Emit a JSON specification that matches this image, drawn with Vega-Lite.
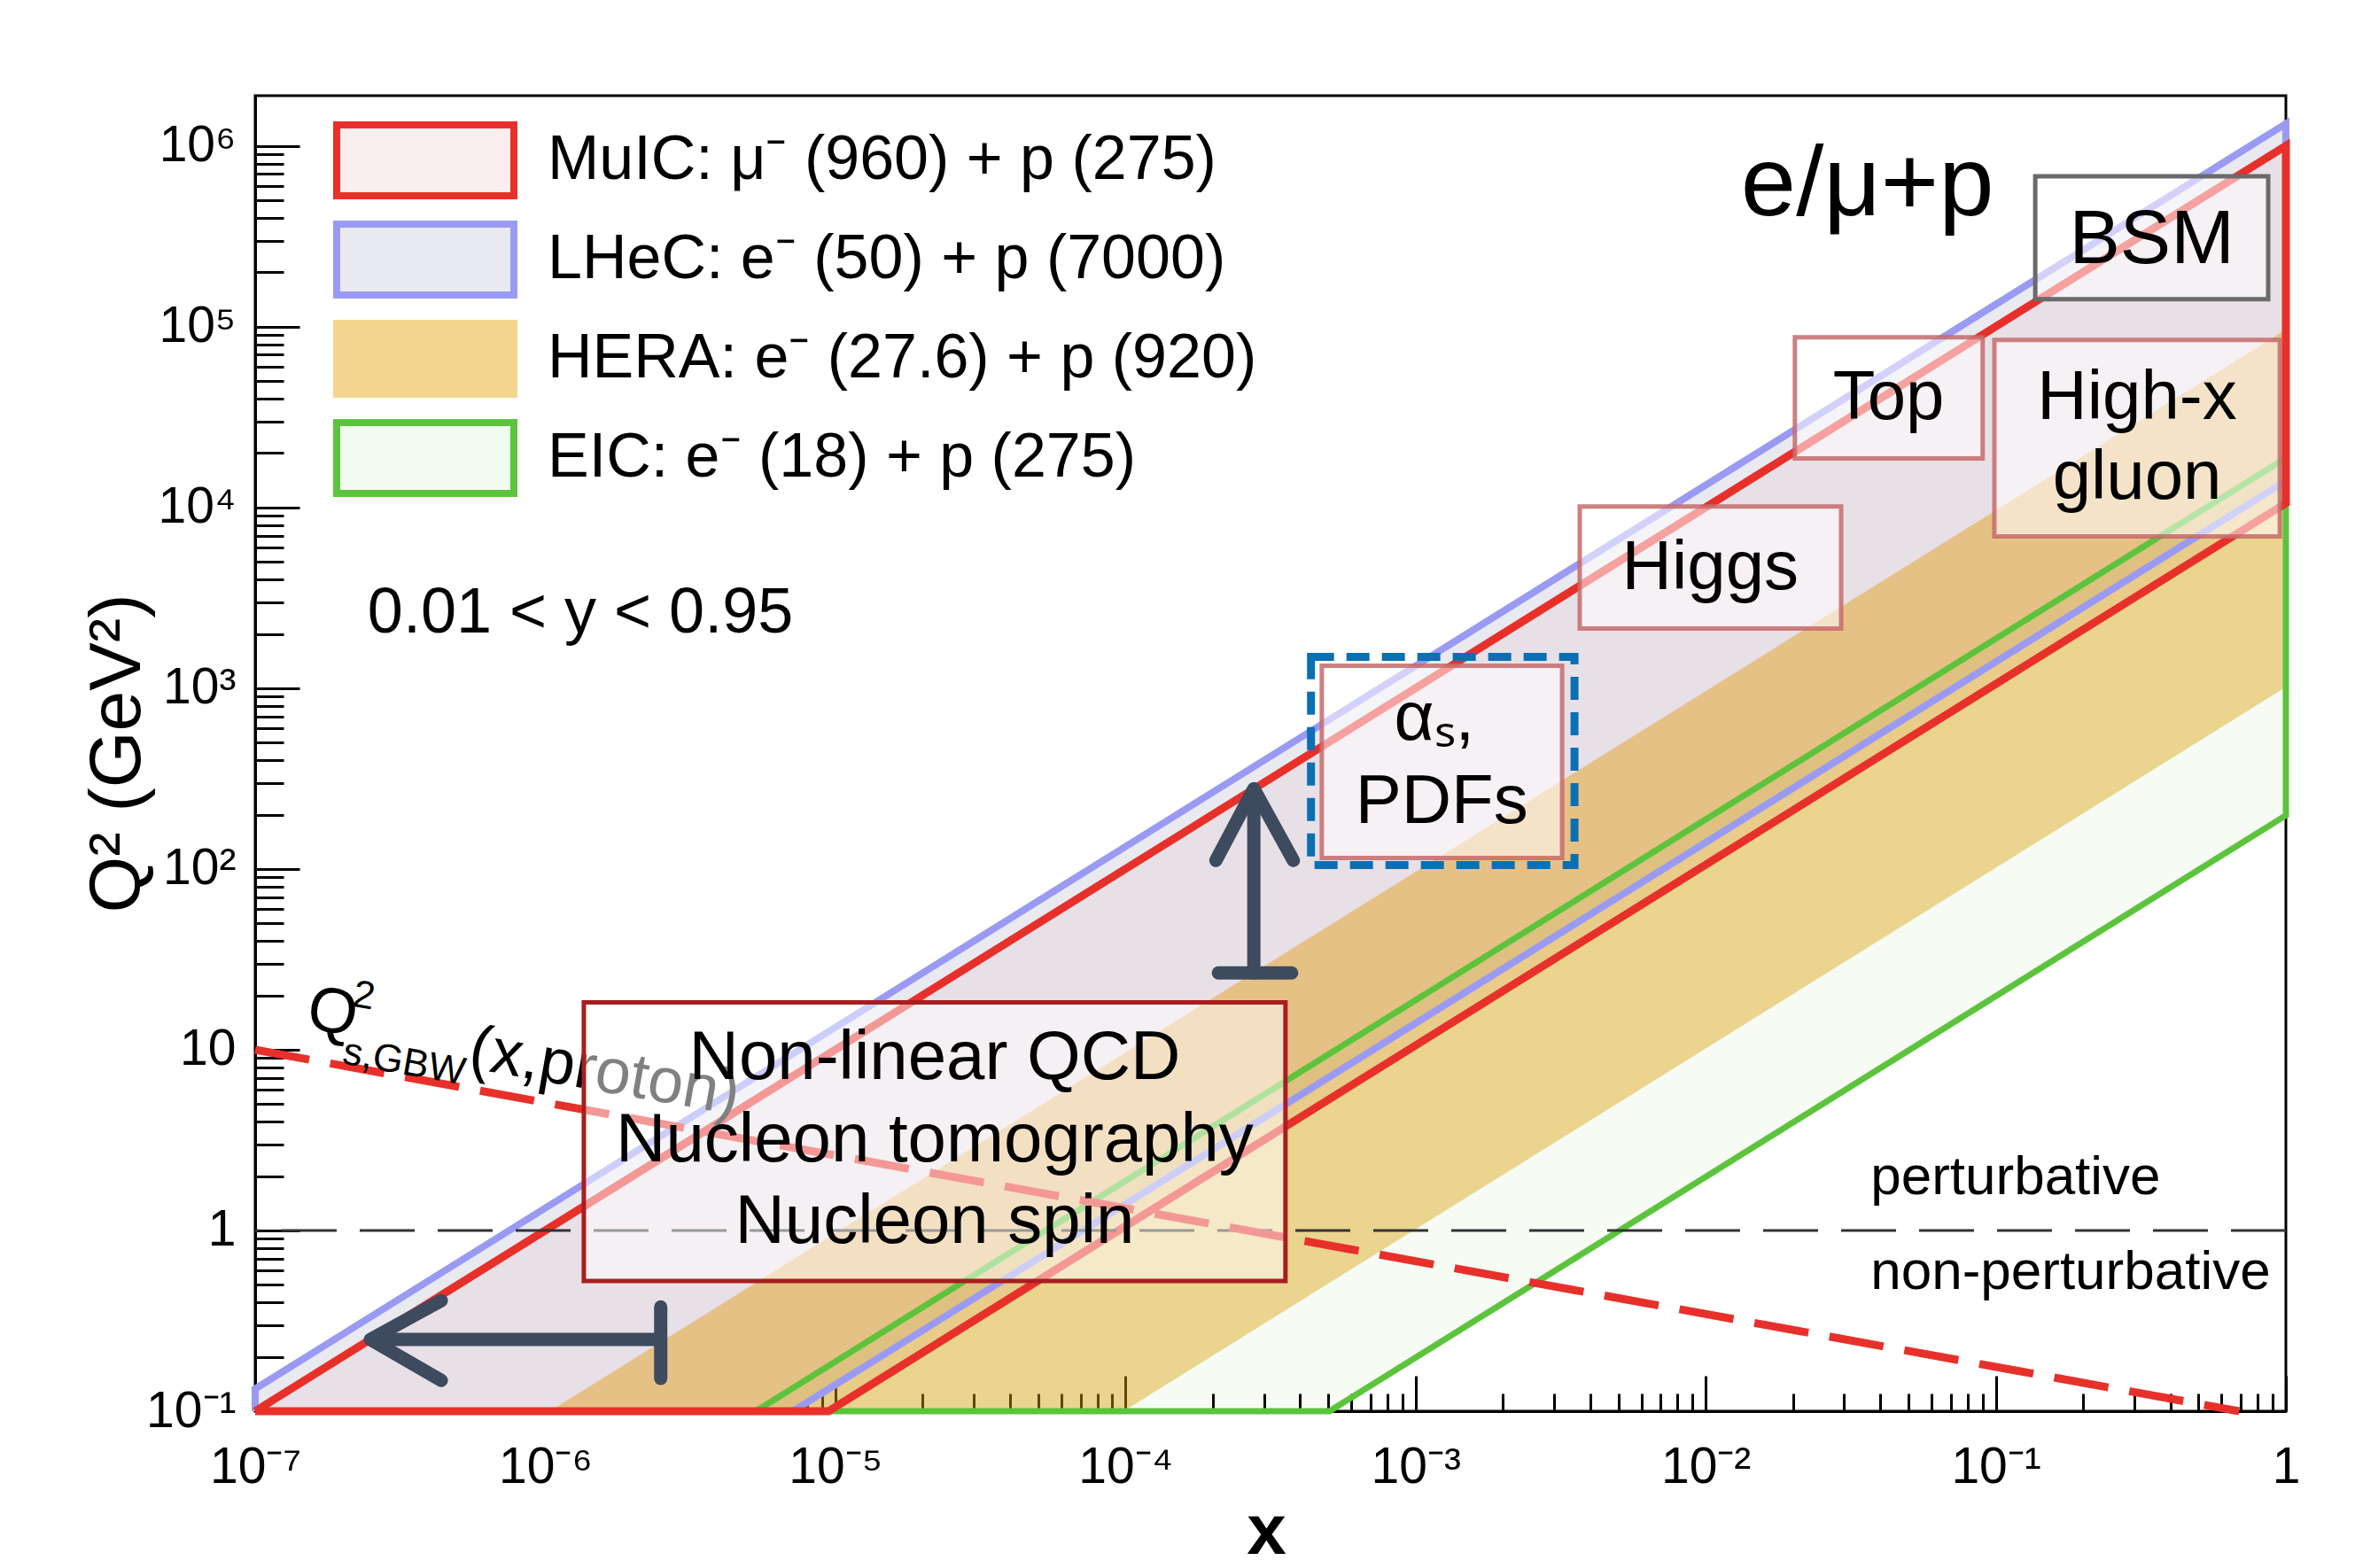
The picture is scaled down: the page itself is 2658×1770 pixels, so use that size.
{
  "$schema": "https://vega.github.io/schema/vega-lite/v6.json",
  "width": 2292,
  "height": 1485,
  "autosize": {"type": "none"},
  "padding": {"left": 288, "top": 108, "right": 78, "bottom": 177},
  "background": "white",
  "config": {
    "font": "Liberation Sans",
    "view": {"stroke": "#000", "strokeWidth": 3},
    "axis": {
      "domainColor": "#000", "domainWidth": 3, "tickColor": "#000", "tickWidth": 3,
      "labelColor": "#000", "titleColor": "#000", "grid": false,
      "labelFlush": false, "labelOverlap": false,
      "labelFont": "Liberation Sans", "titleFont": "Liberation Sans"
    }
  },
  "datasets": {
    "regions": [
      {"series": "LHeC", "x": 1e-7, "hi": 0.133, "lo": 0.1},
      {"series": "LHeC", "x": 7.143e-6, "hi": 9.5, "lo": 0.1},
      {"series": "LHeC", "x": 1, "hi": 1330000, "lo": 14000},
      {"series": "HERA", "x": 1.0364e-6, "hi": 0.1, "lo": 0.1},
      {"series": "HERA", "x": 9.846e-5, "hi": 9.5, "lo": 0.1},
      {"series": "HERA", "x": 1, "hi": 96490, "lo": 1015.7},
      {"series": "EIC", "x": 5.316e-6, "hi": 0.1, "lo": 0.1},
      {"series": "EIC", "x": 5.0505e-4, "hi": 9.5, "lo": 0.1},
      {"series": "EIC", "x": 1, "hi": 18810, "lo": 198},
      {"series": "MuIC", "x": 1e-7, "hi": 0.1003, "lo": 0.1},
      {"series": "MuIC", "x": 9.47e-6, "hi": 9.5, "lo": 0.1},
      {"series": "MuIC", "x": 1, "hi": 1003200, "lo": 10560}
    ],
    "outlines": [
      {"series": "LHeC", "ord": 1, "x": 1e-7, "q": 0.1},
      {"series": "LHeC", "ord": 2, "x": 1e-7, "q": 0.133},
      {"series": "LHeC", "ord": 3, "x": 1, "q": 1330000},
      {"series": "LHeC", "ord": 4, "x": 1, "q": 14000},
      {"series": "LHeC", "ord": 5, "x": 7.143e-6, "q": 0.1},
      {"series": "LHeC", "ord": 6, "x": 1e-7, "q": 0.1},
      {"series": "EIC", "ord": 1, "x": 5.316e-6, "q": 0.1},
      {"series": "EIC", "ord": 2, "x": 1, "q": 18810},
      {"series": "EIC", "ord": 3, "x": 1, "q": 198},
      {"series": "EIC", "ord": 4, "x": 5.0505e-4, "q": 0.1},
      {"series": "EIC", "ord": 5, "x": 5.316e-6, "q": 0.1},
      {"series": "MuIC", "ord": 1, "x": 1e-7, "q": 0.1},
      {"series": "MuIC", "ord": 2, "x": 1, "q": 1003200},
      {"series": "MuIC", "ord": 3, "x": 1, "q": 10560},
      {"series": "MuIC", "ord": 4, "x": 9.47e-6, "q": 0.1},
      {"series": "MuIC", "ord": 5, "x": 1e-7, "q": 0.1}
    ],
    "hline": [{"q": 1}],
    "gbw": [{"x": 1e-7, "q": 10}, {"x": 0.69, "q": 0.1}],
    "gbwtext": [
      {"part": "big", "t": "Q", "x": 1.483e-7, "y": 13.2},
      {"part": "small", "t": "2", "x": 2.14e-7, "y": 17.5},
      {"part": "small", "t": "s,GBW", "x": 1.98e-7, "y": 8.41},
      {"part": "big", "t": "(x,proton)", "x": 5.37e-7, "y": 7.96}
    ],
    "boxes": [
      {"box": "BSM", "x1": 0.1368, "x2": 0.869, "y1": 681000, "y2": 142000},
      {"box": "Top", "x1": 0.0203, "x2": 0.0901, "y1": 87500, "y2": 18700},
      {"box": "High-x gluon", "x1": 0.0989, "x2": 0.953, "y1": 84600, "y2": 6920},
      {"box": "Higgs", "x1": 0.00368, "x2": 0.0293, "y1": 10140, "y2": 2138},
      {"box": "alphas PDFs", "x1": 4.75e-4, "x2": 3.2e-3, "y1": 1334, "y2": 115},
      {"box": "Non-linear QCD", "x1": 1.358e-6, "x2": 3.56e-4, "y1": 18.3, "y2": 0.525}
    ],
    "highlight": [{"x1": 4.36e-4, "x2": 3.53e-3, "y1": 1493, "y2": 105}],
    "labels": [
      {"grp": "box", "t": "Top", "x": 0.0427, "y": 40200},
      {"grp": "box", "t": "High-x", "x": 0.307, "y": 40200},
      {"grp": "box", "t": "gluon", "x": 0.307, "y": 14550},
      {"grp": "box", "t": "Higgs", "x": 0.01037, "y": 4604},
      {"grp": "box", "t": "αₛ,", "x": 0.00116, "y": 670},
      {"grp": "box", "t": "PDFs", "x": 0.00123, "y": 234},
      {"grp": "box", "t": "Non-linear QCD", "x": 2.2e-5, "y": 8.9},
      {"grp": "box", "t": "Nucleon tomography", "x": 2.2e-5, "y": 3.12},
      {"grp": "box", "t": "Nucleon spin", "x": 2.2e-5, "y": 1.105},
      {"grp": "bsm", "t": "BSM", "x": 0.345, "y": 303000},
      {"grp": "title", "t": "e/μ+p", "x": 0.0361, "y": 415000},
      {"grp": "cut", "t": "0.01 < y < 0.95", "x": 2.44e-7, "y": 2023},
      {"grp": "pert", "t": "perturbative", "x": 0.037, "y": 1.585},
      {"grp": "pert", "t": "non-perturbative", "x": 0.037, "y": 0.474}
    ],
    "arrows": [
      {"part": "h_shaft", "ord": 1, "x": 2.6e-7, "q": 0.2495},
      {"part": "h_shaft", "ord": 2, "x": 2.5e-6, "q": 0.2495},
      {"part": "h_head", "ord": 1, "x": 4.38e-7, "q": 0.409},
      {"part": "h_head", "ord": 2, "x": 2.495e-7, "q": 0.2495},
      {"part": "h_head", "ord": 3, "x": 4.38e-7, "q": 0.148},
      {"part": "h_bar", "ord": 1, "x": 2.5e-6, "q": 0.378},
      {"part": "h_bar", "ord": 2, "x": 2.5e-6, "q": 0.152},
      {"part": "v_shaft", "ord": 1, "x": 2.77e-4, "q": 260},
      {"part": "v_shaft", "ord": 2, "x": 2.77e-4, "q": 26.6},
      {"part": "v_head", "ord": 1, "x": 2.05e-4, "q": 111.5},
      {"part": "v_head", "ord": 2, "x": 2.77e-4, "q": 278},
      {"part": "v_head", "ord": 3, "x": 3.79e-4, "q": 111.5},
      {"part": "v_bar", "ord": 1, "x": 2.09e-4, "q": 26.6},
      {"part": "v_bar", "ord": 2, "x": 3.74e-4, "q": 26.6}
    ]
  },
  "layer": [
    {
      "data": {"name": "regions"},
      "transform": [{"filter": "false"}],
      "mark": {"type": "area", "opacity": 1},
      "encoding": {
        "x": {
          "field": "x", "type": "quantitative",
          "scale": {"type": "log", "domain": [1e-7, 1], "nice": false},
          "axis": {
            "title": "x", "titleFontSize": 80, "titleFontWeight": "bold",
            "titleX": 1141, "titleY": 136, "titleAlign": "center", "titleBaseline": "middle",
            "tickCount": 80, "labelFontSize": 57, "labelPadding": 75,
            "tickSize": {"condition": {"test": "abs(log(datum.value)/LN10 - round(log(datum.value)/LN10)) < 0.01", "value": -40}, "value": -20},
            "labelExpr": "abs(log(datum.value)/LN10 - round(log(datum.value)/LN10)) < 0.01 ? (round(log(datum.value)/LN10) == 0 ? '1' : '10' + ['⁻⁷','⁻⁶','⁻⁵','⁻⁴','⁻³','⁻²','⁻¹'][round(log(datum.value)/LN10) + 7]) : ''"
          }
        },
        "y": {
          "field": "hi", "type": "quantitative",
          "scale": {"type": "log", "domain": [0.1, 1900000], "nice": false},
          "axis": {
            "title": "Q² (GeV²)", "titleFontSize": 82, "titleFontWeight": "normal",
            "titleX": -156, "titleY": 742, "titleAlign": "center", "titleBaseline": "middle", "titleAngle": -90,
            "tickCount": 80, "labelFontSize": 57, "labelPadding": 72,
            "tickSize": {"condition": {"test": "abs(log(datum.value)/LN10 - round(log(datum.value)/LN10)) < 0.01", "value": -50}, "value": -32},
            "labelExpr": "abs(log(datum.value)/LN10 - round(log(datum.value)/LN10)) < 0.01 ? (round(log(datum.value)/LN10) == 0 ? '1' : round(log(datum.value)/LN10) == 1 ? '10' : '10' + ['⁻¹','','','²','³','⁴','⁵','⁶'][round(log(datum.value)/LN10) + 1]) : ''"
          }
        },
        "fill": {
          "field": "series", "type": "nominal",
          "scale": {"domain": ["MuIC", "LHeC", "HERA", "EIC"], "range": ["#fbeeee", "#e9e9f0", "#f3d58e", "#f1faee"]},
          "legend": {
            "orient": "none", "legendX": 92, "legendY": 29, "title": null, "padding": 0,
            "symbolType": "M-2.5,-1H2.5V1H-2.5Z", "symbolSize": 6400, "symbolStrokeWidth": 8,
            "symbolOffset": 56, "labelOffset": 94, "rowPadding": 0, "symbolOpacity": 1,
            "labelFontSize": 70, "labelFont": "Liberation Sans", "labelColor": "#000", "labelLimit": 0,
            "labelExpr": "datum.label == 'MuIC' ? 'MuIC: μ⁻ (960) + p (275)' : datum.label == 'LHeC' ? 'LHeC: e⁻ (50) + p (7000)' : datum.label == 'HERA' ? 'HERA: e⁻ (27.6) + p (920)' : 'EIC: e⁻ (18) + p (275)'"
          }
        },
        "stroke": {
          "field": "series", "type": "nominal",
          "scale": {"domain": ["MuIC", "LHeC", "HERA", "EIC"], "range": ["#e8302a", "#9a9af4", "#f3d58e", "#5cc43c"]},
          "legend": {
            "orient": "none", "legendX": 92, "legendY": 29, "title": null, "padding": 0,
            "symbolType": "M-2.5,-1H2.5V1H-2.5Z", "symbolSize": 6400, "symbolStrokeWidth": 8,
            "symbolOffset": 56, "labelOffset": 94, "rowPadding": 0, "symbolOpacity": 1,
            "labelFontSize": 70, "labelFont": "Liberation Sans", "labelColor": "#000", "labelLimit": 0,
            "labelExpr": "datum.label == 'MuIC' ? 'MuIC: μ⁻ (960) + p (275)' : datum.label == 'LHeC' ? 'LHeC: e⁻ (50) + p (7000)' : datum.label == 'HERA' ? 'HERA: e⁻ (27.6) + p (920)' : 'EIC: e⁻ (18) + p (275)'"
          }
        }
      }
    },
    {
      "data": {"name": "regions"},
      "transform": [{"filter": "datum.series == 'LHeC'"}],
      "mark": {"type": "area", "color": "#e9e9f0", "opacity": 1},
      "encoding": {
        "x": {"field": "x", "type": "quantitative"},
        "y": {"field": "hi", "type": "quantitative"},
        "y2": {"field": "lo"}
      }
    },
    {
      "data": {"name": "regions"},
      "transform": [{"filter": "datum.series == 'HERA'"}],
      "mark": {"type": "area", "color": "#e29a00", "opacity": 0.42},
      "encoding": {
        "x": {"field": "x", "type": "quantitative"},
        "y": {"field": "hi", "type": "quantitative"},
        "y2": {"field": "lo"}
      }
    },
    {
      "data": {"name": "regions"},
      "transform": [{"filter": "datum.series == 'EIC'"}],
      "mark": {"type": "area", "color": "#5cc43c", "opacity": 0.055},
      "encoding": {
        "x": {"field": "x", "type": "quantitative"},
        "y": {"field": "hi", "type": "quantitative"},
        "y2": {"field": "lo"}
      }
    },
    {
      "data": {"name": "regions"},
      "transform": [{"filter": "datum.series == 'MuIC'"}],
      "mark": {"type": "area", "color": "#e02020", "opacity": 0.04},
      "encoding": {
        "x": {"field": "x", "type": "quantitative"},
        "y": {"field": "hi", "type": "quantitative"},
        "y2": {"field": "lo"}
      }
    },
    {
      "data": {"name": "outlines"},
      "transform": [{"filter": "datum.series == 'LHeC'"}],
      "mark": {"type": "line", "color": "#9a9af4", "strokeWidth": 8},
      "encoding": {
        "x": {"field": "x", "type": "quantitative"},
        "y": {"field": "q", "type": "quantitative"},
        "order": {"field": "ord"}
      }
    },
    {
      "data": {"name": "outlines"},
      "transform": [{"filter": "datum.series == 'EIC'"}],
      "mark": {"type": "line", "color": "#5cc43c", "strokeWidth": 7},
      "encoding": {
        "x": {"field": "x", "type": "quantitative"},
        "y": {"field": "q", "type": "quantitative"},
        "order": {"field": "ord"}
      }
    },
    {
      "data": {"name": "outlines"},
      "transform": [{"filter": "datum.series == 'MuIC'"}],
      "mark": {"type": "line", "color": "#e8302a", "strokeWidth": 9},
      "encoding": {
        "x": {"field": "x", "type": "quantitative"},
        "y": {"field": "q", "type": "quantitative"},
        "order": {"field": "ord"}
      }
    },
    {
      "data": {"name": "hline"},
      "mark": {"type": "rule", "color": "#333333", "strokeWidth": 3, "strokeDash": [62, 26]},
      "encoding": {"y": {"field": "q", "type": "quantitative"}}
    },
    {
      "data": {"name": "gbw"},
      "mark": {"type": "line", "color": "#e8302a", "strokeWidth": 9, "strokeDash": [62, 24]},
      "encoding": {
        "x": {"field": "x", "type": "quantitative"},
        "y": {"field": "q", "type": "quantitative"}
      }
    },
    {
      "data": {"name": "gbwtext"},
      "transform": [{"filter": "datum.part == 'big'"}],
      "mark": {"type": "text", "fontSize": 72, "angle": 10, "align": "left", "baseline": "alphabetic", "color": "#000"},
      "encoding": {
        "x": {"field": "x", "type": "quantitative"},
        "y": {"field": "y", "type": "quantitative"},
        "text": {"field": "t"}
      }
    },
    {
      "data": {"name": "gbwtext"},
      "transform": [{"filter": "datum.part == 'small'"}],
      "mark": {"type": "text", "fontSize": 44, "angle": 10, "align": "left", "baseline": "alphabetic", "color": "#000"},
      "encoding": {
        "x": {"field": "x", "type": "quantitative"},
        "y": {"field": "y", "type": "quantitative"},
        "text": {"field": "t"}
      }
    },
    {
      "data": {"name": "boxes"},
      "transform": [{"filter": "datum.box != 'BSM' && datum.box != 'Non-linear QCD'"}],
      "mark": {"type": "rect", "fill": "#ffffff", "fillOpacity": 0.55, "stroke": "#c66a6a", "strokeOpacity": 0.85, "strokeWidth": 5},
      "encoding": {
        "x": {"field": "x1", "type": "quantitative"}, "x2": {"field": "x2"},
        "y": {"field": "y1", "type": "quantitative"}, "y2": {"field": "y2"}
      }
    },
    {
      "data": {"name": "boxes"},
      "transform": [{"filter": "datum.box == 'BSM'"}],
      "mark": {"type": "rect", "fill": "#ffffff", "fillOpacity": 0.55, "stroke": "#6a6a6a", "strokeWidth": 5},
      "encoding": {
        "x": {"field": "x1", "type": "quantitative"}, "x2": {"field": "x2"},
        "y": {"field": "y1", "type": "quantitative"}, "y2": {"field": "y2"}
      }
    },
    {
      "data": {"name": "boxes"},
      "transform": [{"filter": "datum.box == 'Non-linear QCD'"}],
      "mark": {"type": "rect", "fill": "#ffffff", "fillOpacity": 0.5, "stroke": "#a81e1e", "strokeWidth": 5},
      "encoding": {
        "x": {"field": "x1", "type": "quantitative"}, "x2": {"field": "x2"},
        "y": {"field": "y1", "type": "quantitative"}, "y2": {"field": "y2"}
      }
    },
    {
      "data": {"name": "highlight"},
      "mark": {"type": "rect", "filled": false, "stroke": "#0b6fb4", "strokeWidth": 9, "strokeDash": [26, 14]},
      "encoding": {
        "x": {"field": "x1", "type": "quantitative"}, "x2": {"field": "x2"},
        "y": {"field": "y1", "type": "quantitative"}, "y2": {"field": "y2"}
      }
    },
    {
      "data": {"name": "labels"},
      "transform": [{"filter": "datum.grp == 'box'"}],
      "mark": {"type": "text", "fontSize": 78, "align": "center", "baseline": "middle", "color": "#000"},
      "encoding": {
        "x": {"field": "x", "type": "quantitative"},
        "y": {"field": "y", "type": "quantitative"},
        "text": {"field": "t"}
      }
    },
    {
      "data": {"name": "labels"},
      "transform": [{"filter": "datum.grp == 'bsm'"}],
      "mark": {"type": "text", "fontSize": 86, "align": "center", "baseline": "middle", "color": "#000"},
      "encoding": {
        "x": {"field": "x", "type": "quantitative"},
        "y": {"field": "y", "type": "quantitative"},
        "text": {"field": "t"}
      }
    },
    {
      "data": {"name": "labels"},
      "transform": [{"filter": "datum.grp == 'title'"}],
      "mark": {"type": "text", "fontSize": 112, "align": "center", "baseline": "alphabetic", "color": "#000"},
      "encoding": {
        "x": {"field": "x", "type": "quantitative"},
        "y": {"field": "y", "type": "quantitative"},
        "text": {"field": "t"}
      }
    },
    {
      "data": {"name": "labels"},
      "transform": [{"filter": "datum.grp == 'cut'"}],
      "mark": {"type": "text", "fontSize": 72, "align": "left", "baseline": "alphabetic", "color": "#000"},
      "encoding": {
        "x": {"field": "x", "type": "quantitative"},
        "y": {"field": "y", "type": "quantitative"},
        "text": {"field": "t"}
      }
    },
    {
      "data": {"name": "labels"},
      "transform": [{"filter": "datum.grp == 'pert'"}],
      "mark": {"type": "text", "fontSize": 62, "align": "left", "baseline": "alphabetic", "color": "#000"},
      "encoding": {
        "x": {"field": "x", "type": "quantitative"},
        "y": {"field": "y", "type": "quantitative"},
        "text": {"field": "t"}
      }
    },
    {
      "data": {"name": "arrows"},
      "mark": {"type": "line", "color": "#3e4a5e", "strokeWidth": 15, "strokeCap": "round", "strokeJoin": "round"},
      "encoding": {
        "x": {"field": "x", "type": "quantitative"},
        "y": {"field": "q", "type": "quantitative"},
        "detail": {"field": "part"},
        "order": {"field": "ord"}
      }
    }
  ]
}
